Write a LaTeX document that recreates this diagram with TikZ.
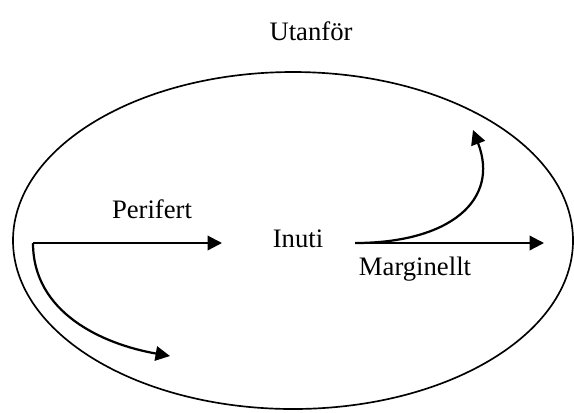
\documentclass[tikz,border=0pt]{standalone}
\usepackage{fontspec}
\setmainfont{Liberation Serif}
\usepackage{tikz}
\usetikzlibrary{arrows.meta, positioning}
\tikzset{
  zone/.style={draw=black, line width=0.75pt},
  label/.style={font=\fontsize{12}{14}\selectfont, inner sep=0pt},
  arrow/.style={-{Triangle[length=6.5pt, width=6.5pt]}, line width=1pt, color=black},
  line/.style={line width=1pt, color=black}
}
\begin{document}
\begin{tikzpicture}[x=0.45pt, y=-0.45pt]
  \useasboundingbox (0,0) rectangle (574,412);

  % Outer region
  \draw[zone] (293,240.5) ellipse [x radius=280, y radius=168.5];

  % Labels
  \node[label] (utanfor) at (311,31) {Utanför};
  \node[label] (perifert) at (152,209) {Perifert};
  \node[label] (inuti) at (298,239) {Inuti};
  \node[label] (marginellt) at (415,269) {Marginellt};

  % Arrow end points
  \coordinate (left) at (33,243);
  \coordinate (leftend) at (222,243);
  \coordinate (downend) at (170,356);
  \coordinate (right) at (355,243);
  \coordinate (rightend) at (544,243);
  \coordinate (upend) at (473,130);

  % Arrows from the left
  \draw[arrow] (left) -- (leftend);
  \draw[arrow] (left) to[out=-90, in=170] (downend);

  % Arrows from the right
  \draw[arrow] (right) -- (rightend);
  \draw[arrow] (right) .. controls (450,243) and (500,200) .. (upend);
\end{tikzpicture}
\end{document}
